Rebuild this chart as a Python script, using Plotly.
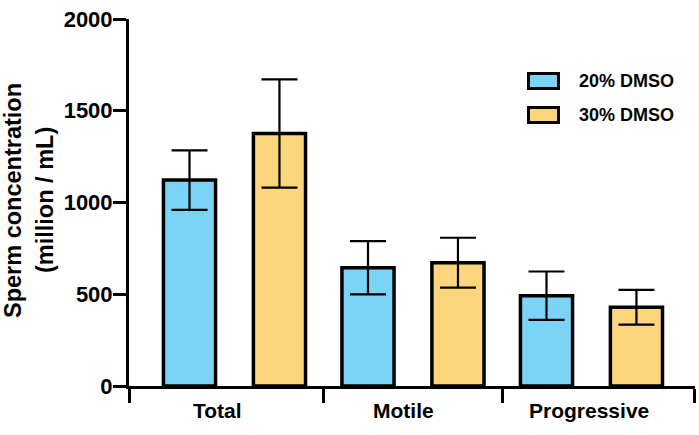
import plotly.graph_objects as go

# ---- data ----
categories = ["Total", "Motile", "Progressive"]
series_names = ["20% DMSO", "30% DMSO"]
mean_20 = [1122, 644, 492]
sd_20 = [162, 145, 132]
mean_30 = [1376, 672, 429]
sd_30 = [295, 136, 95]
y_ticks = [0, 500, 1000, 1500, 2000]

# ---- style ----
W, H = 699, 435
ML, MR, MT, MB = 129, 4, 19, 49
PW, PH = W - ML - MR, H - MT - MB
colors = ["#7BD3F6", "#FDD57D"]
FONT = "Liberation Sans, Arial, sans-serif"
bar_w = 0.292
bar_off = 0.252
x_range = [-0.591, 2.58]
label_shift = [-17, -9, -2]


def px_x(p):
    return (p - ML) / PW


def px_y(p):
    return (H - MB - p) / PH


idx = list(range(len(categories)))
fig = go.Figure()
for k, (m, s) in enumerate([(mean_20, sd_20), (mean_30, sd_30)]):
    sign = -1 if k == 0 else 1
    fig.add_trace(go.Bar(
        x=[i + sign * bar_off for i in idx], y=m, width=bar_w,
        name=series_names[k],
        marker=dict(color=colors[k], line=dict(color="black", width=3.5)),
        error_y=dict(type="data", array=s, visible=True, color="black",
                     thickness=2.2, width=18),
        showlegend=False,
        hoverinfo="skip",
    ))

fig.update_layout(
    width=W, height=H, margin=dict(l=ML, r=MR, t=MT, b=MB),
    plot_bgcolor="white", paper_bgcolor="white",
    barmode="overlay",
    font=dict(family=FONT, color="black"),
    xaxis=dict(range=x_range, showgrid=False, zeroline=False,
               showline=True, linecolor="black", linewidth=3,
               tickvals=[], ticks="",
               minor=dict(tickvals=[x_range[0] + 0.002, 0.5, 1.5, x_range[1] - 0.002],
                          ticks="outside", ticklen=14, tickwidth=3,
                          tickcolor="black", showgrid=False)),
    yaxis=dict(range=[0, 2000], showgrid=False, zeroline=False,
               showline=True, linecolor="black", linewidth=3,
               tickvals=y_ticks, ticks="outside", ticklen=13, tickwidth=3,
               tickcolor="black", ticklabeloverflow="allow",
               tickfont=dict(family=FONT, size=22, color="black", weight="bold"),
               ticklabelstandoff=-4),
)

# category labels
for i, c in enumerate(categories):
    fig.add_annotation(x=i, y=0, xref="x", yref="paper", text="<b>%s</b>" % c,
                       showarrow=False, yanchor="top", yshift=-11,
                       xshift=label_shift[i],
                       font=dict(family=FONT, size=21, color="black"))

# y title (two lines)
for txt, xp in [("Sperm concentration", 13), ("(million / mL)", 45)]:
    fig.add_annotation(x=px_x(xp), y=px_y(200), xref="paper", yref="paper",
                       text="<b>%s</b>" % txt, textangle=-90, showarrow=False,
                       xanchor="center", yanchor="middle", borderpad=0,
                       font=dict(family=FONT, size=23.5, color="black"))

# legend
for k, (y0, y1) in enumerate([(72, 90), (106, 124)]):
    fig.add_shape(type="rect", xref="paper", yref="paper",
                  x0=px_x(528.5), x1=px_x(558.5), y0=px_y(y1 - 1.5), y1=px_y(y0 + 1.5),
                  fillcolor=colors[k], line=dict(color="black", width=3))
    fig.add_annotation(x=px_x(577), y=px_y((y0 + y1) / 2), xref="paper", yref="paper",
                       text="<b>%s</b>" % series_names[k], showarrow=False,
                       xanchor="left", yanchor="middle",
                       font=dict(family=FONT, size=18, color="black"))

# remove the default 8px page margin so the figure starts at the window corner
fig.write_html("out.html", config={"displayModeBar": False},
               post_script="document.body.style.margin='0';")
